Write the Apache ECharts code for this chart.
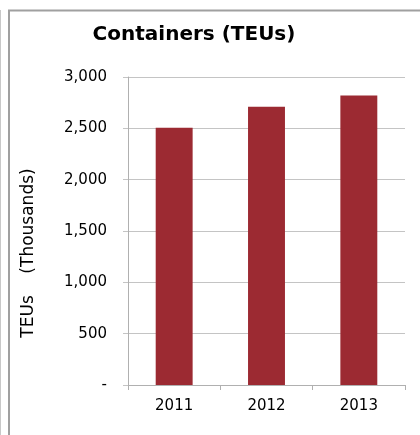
<!DOCTYPE html>
<html>
<head>
<meta charset="utf-8">
<script src="https://cdn.jsdelivr.net/npm/echarts@6/dist/echarts.min.js"></script>
<style>
  html, body { margin: 0; padding: 0; background: #fff; }
  #chart { width: 420px; height: 435px; }
</style>
</head>
<body>
<div id="chart"></div>
<script>
const years = ['2011', '2012', '2013'];
const teus = [2505, 2710, 2820];
const barColor = '#9C2A32';
const font = '"DejaVu Sans", Verdana, sans-serif';

const chart = echarts.init(document.getElementById('chart'));
chart.setOption({
  animation: false,
  title: {
    text: 'Containers (TEUs)',
    left: 189,
    top: 20,
    textAlign: 'center',
    textStyle: { fontFamily: font, fontWeight: 'bold', fontSize: 20, color: '#000' }
  },
  // outer frame lines
  graphic: [
    { type: 'line', shape: { x1: 0.5, y1: 10, x2: 0.5, y2: 435 }, style: { stroke: '#c8c8c8', lineWidth: 1 } },
    { type: 'polyline', shape: { points: [[9, 435], [9, 10.5], [420, 10.5]] }, style: { stroke: '#a0a0a0', lineWidth: 2, fill: null } }
  ],
  grid: { left: 128, top: 77, width: 277, height: 308 },
  xAxis: {
    type: 'category',
    data: years,
    axisLine: { lineStyle: { color: '#b0b0b0' } },
    axisTick: { show: true, length: 5, lineStyle: { color: '#b0b0b0' } },
    axisLabel: { fontFamily: font, fontSize: 15, color: '#000', margin: 14 }
  },
  yAxis: {
    type: 'value',
    min: 0,
    max: 3000,
    interval: 500,
    name: 'TEUs    (Thousands)',
    nameLocation: 'middle',
    nameGap: 91,
    nameTextStyle: { fontFamily: font, fontSize: 17, color: '#000', padding: [0, 44, 0, 0] },
    axisLine: { show: true, lineStyle: { color: '#b0b0b0' } },
    axisTick: { show: true, length: 5, lineStyle: { color: '#c4c4c4' } },
    splitLine: { lineStyle: { color: '#c4c4c4' } },
    axisLabel: {
      fontFamily: font, fontSize: 15, color: '#000', margin: 21,
      formatter: v => v === 0 ? '-' : v.toLocaleString('en-US')
    }
  },
  series: [{
    type: 'bar',
    data: teus,
    barWidth: '40%',
    itemStyle: { color: barColor }
  }]
});
</script>
</body>
</html>
